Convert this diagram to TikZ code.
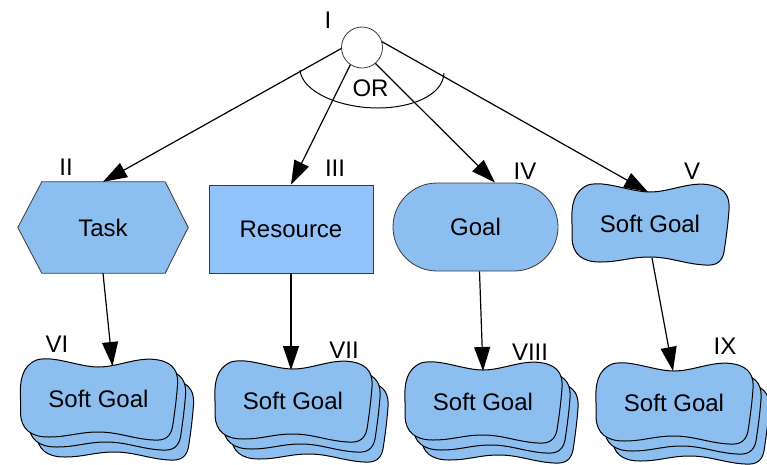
\documentclass[tikz,border=0pt]{standalone}
\usepackage{fontspec}
\setmainfont{Liberation Sans}
\usetikzlibrary{arrows.meta,calc,backgrounds}
\definecolor{bluefill}{HTML}{8CBEEF}
\definecolor{resfill}{HTML}{92C2FA}
\definecolor{edgegray}{HTML}{3A3A3A}
\begin{document}
\begin{tikzpicture}[x=1pt,y=-1pt,
  every node/.style={font=\fontsize{24}{28}\selectfont, inner sep=0pt},
  conn/.style={line width=1.2pt, -{Triangle[length=24pt,width=16pt]}},
  blobstyle/.style={draw=black, line width=1pt, fill=bluefill},
  sgnode/.style={minimum width=158pt, minimum height=82pt},
  sgblob/.pic={\path[blobstyle] (-78,0) .. controls (-79,-20) and (-76,-33) .. (-62,-39)
      .. controls (-45,-44) and (-20,-32) .. (0,-32)
      .. controls (20,-32) and (40,-43) .. (60,-39)
      .. controls (76,-36) and (80,-26) .. (79,-14)
      .. controls (78,0) and (76,15) .. (74,28)
      .. controls (72,38) and (66,42) .. (55,41)
      .. controls (35,40) and (20,33) .. (0,33)
      .. controls (-20,33) and (-30,38) .. (-50,38)
      .. controls (-68,38) and (-77,30) .. (-78,15) -- cycle;}
]
\useasboundingbox (0,0) rectangle (767,464);

% top: OR decomposition
\node[circle, draw=edgegray, fill=white, line width=0.8pt, minimum size=41pt] (I) at (362,47.5) {};
\node (lI) at (328,20) {I};
\draw[line width=1pt] (300,70) .. controls (302,92) and (340,108) .. (378,108)
   .. controls (410,108) and (443,96) .. (444,73);
\node (or) at (370.5,88.5) {OR};

% middle row
\node[minimum width=170pt, minimum height=91pt] (task) at (103,227.5) {Task};
\begin{scope}[on background layer]
\draw[draw=edgegray, line width=0.8pt, fill=bluefill] (task.west) -- ($(task.north west)+(24,0)$) -- ($(task.north east)+(-23,0)$) -- (task.east) -- ($(task.south east)+(-23,0)$) -- ($(task.south west)+(24,0)$) -- cycle;
\end{scope}
\node (lII) at (66,167) {II};

\node[draw=edgegray, line width=0.8pt, fill=resfill, minimum width=164pt, minimum height=88pt] (res) at (291,229) {Resource};
\node (lIII) at (335,168) {III};

\node[draw=edgegray, line width=0.8pt, fill=bluefill, rounded corners=44pt, minimum width=165pt, minimum height=88pt] (goal) at (475.5,227) {Goal};
\node (lIV) at (525,171) {IV};

\node[sgnode] (sg5) at (650,224) {Soft Goal};
\begin{scope}[on background layer]
\pic at (sg5) {sgblob};
\end{scope}
\node (lV) at (692,171) {V};

% bottom row (stacked soft goals)
\node[sgnode] (sg6) at (98.5,399) {Soft Goal};
\node[sgnode] (sg7) at (293,401) {Soft Goal};
\node[sgnode] (sg8) at (483,402) {Soft Goal};
\node[sgnode] (sg9) at (674,403) {Soft Goal};
\begin{scope}[on background layer]
\foreach \n in {sg6,sg7,sg8,sg9}{
  \pic at ($(\n)+(16,20)$) {sgblob};
  \pic at ($(\n)+(8,10)$) {sgblob};
  \pic at (\n) {sgblob};
}
\end{scope}
\node (lVI) at (57,344) {VI};
\node (lVII) at (344,350) {VII};
\node (lVIII) at (530,352) {VIII};
\node (lIX) at (725,346) {IX};

% connector end points
\coordinate (goalin) at ($(goal.north)+(19.5,0)$);
\coordinate (sg5in) at ($(sg5)+(-2,-32)$);
\coordinate (sg5out) at ($(sg5)+(2,34)$);
\coordinate (goalout) at ($(goal.south)+(4,0)$);
\coordinate (sg6in) at ($(sg6)+(14,-33)$);
\coordinate (sg7in) at ($(sg7)+(-2,-31)$);
\coordinate (sg8in) at ($(sg8)+(0,-31)$);
\coordinate (sg9in) at ($(sg9)+(-1,-32)$);

% connectors
\draw[conn] (I.183) -- (task.north);
\draw[conn] (I.236) -- (res.north);
\draw[conn] (I.310) -- (goalin);
\draw[conn] (I.16) -- (sg5in);
\draw[conn] (task.south) -- (sg6in);
\draw[conn] (res.south) -- (sg7in);
\draw[conn] (goalout) -- (sg8in);
\draw[conn] (sg5out) -- (sg9in);
\end{tikzpicture}
\end{document}
